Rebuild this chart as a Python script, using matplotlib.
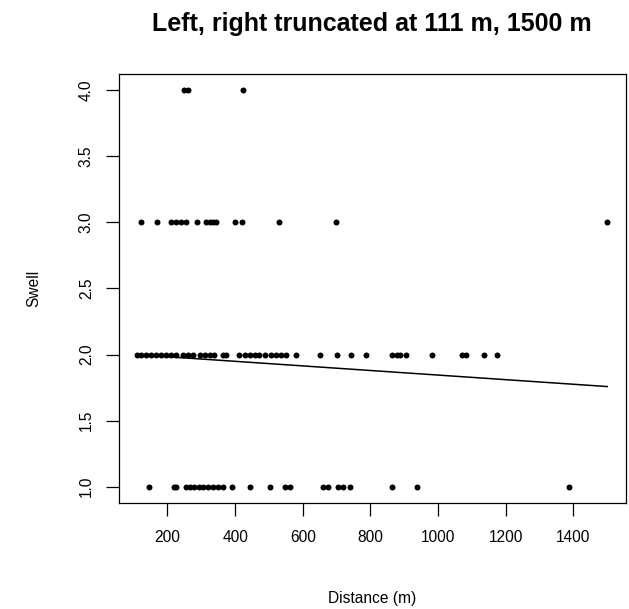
import numpy as np
import matplotlib.pyplot as plt

plt.rcParams['font.family'] = ['Liberation Sans', 'DejaVu Sans']

# distances (m) by swell class
dist_swell1 = [145, 219, 226, 254, 266, 280, 293, 305, 320, 334, 349, 364, 392,
               443, 504, 549, 563, 660, 674, 705, 720, 741, 863, 938, 1388]
dist_swell2 = [111, 123, 138, 152, 167, 182, 197, 211, 226, 246, 261, 275, 295,
               310, 325, 339, 364, 374, 413, 428, 443, 458, 472, 487, 507, 522,
               536, 551, 581, 652, 701, 743, 786, 864, 878, 888, 906, 982, 1071,
               1083, 1137, 1175]
dist_swell3 = [121, 169, 211, 226, 241, 256, 287, 313, 325, 335, 344, 401, 421,
               529, 699, 1500]
dist_swell4 = [250, 260, 423]

# fitted line over the truncated range
fit_x = [111, 1500]
fit_y = [1.999, 1.758]

x = np.array(dist_swell1 + dist_swell2 + dist_swell3 + dist_swell4, dtype=float)
y = np.array([1] * len(dist_swell1) + [2] * len(dist_swell2)
             + [3] * len(dist_swell3) + [4] * len(dist_swell4), dtype=float)

fig = plt.figure(figsize=(6.29, 6.09), dpi=100)
ax = fig.add_axes([0.1884, 0.1747, 0.8068, 0.7033])

ax.plot(x, y, 'o', color='black', markersize=4.3, markeredgewidth=0)
ax.plot(fit_x, fit_y, color='black', linewidth=1.1)

ax.set_xlim(55.4, 1555.6)
ax.set_ylim(0.88, 4.12)
ax.set_xticks(np.arange(200, 1401, 200))
ax.set_yticks(np.arange(1.0, 4.01, 0.5))
ax.set_yticklabels(['%.1f' % v for v in np.arange(1.0, 4.01, 0.5)],
                   rotation=90, va='center')
ax.tick_params(direction='out', length=9.7, width=0.9, labelsize=11.2,
               pad=10)
ax.tick_params(axis='y', pad=8)
for s in ax.spines.values():
    s.set_linewidth(0.9)

ax.set_xlabel('Distance (m)', fontsize=11.2, labelpad=33)
ax.set_ylabel('Swell', fontsize=11.2, labelpad=27)
ax.set_title('Left, right truncated at 111 m, 1500 m', fontsize=18,
             fontweight='bold', pad=31)

plt.savefig('out.png', dpi=100)
